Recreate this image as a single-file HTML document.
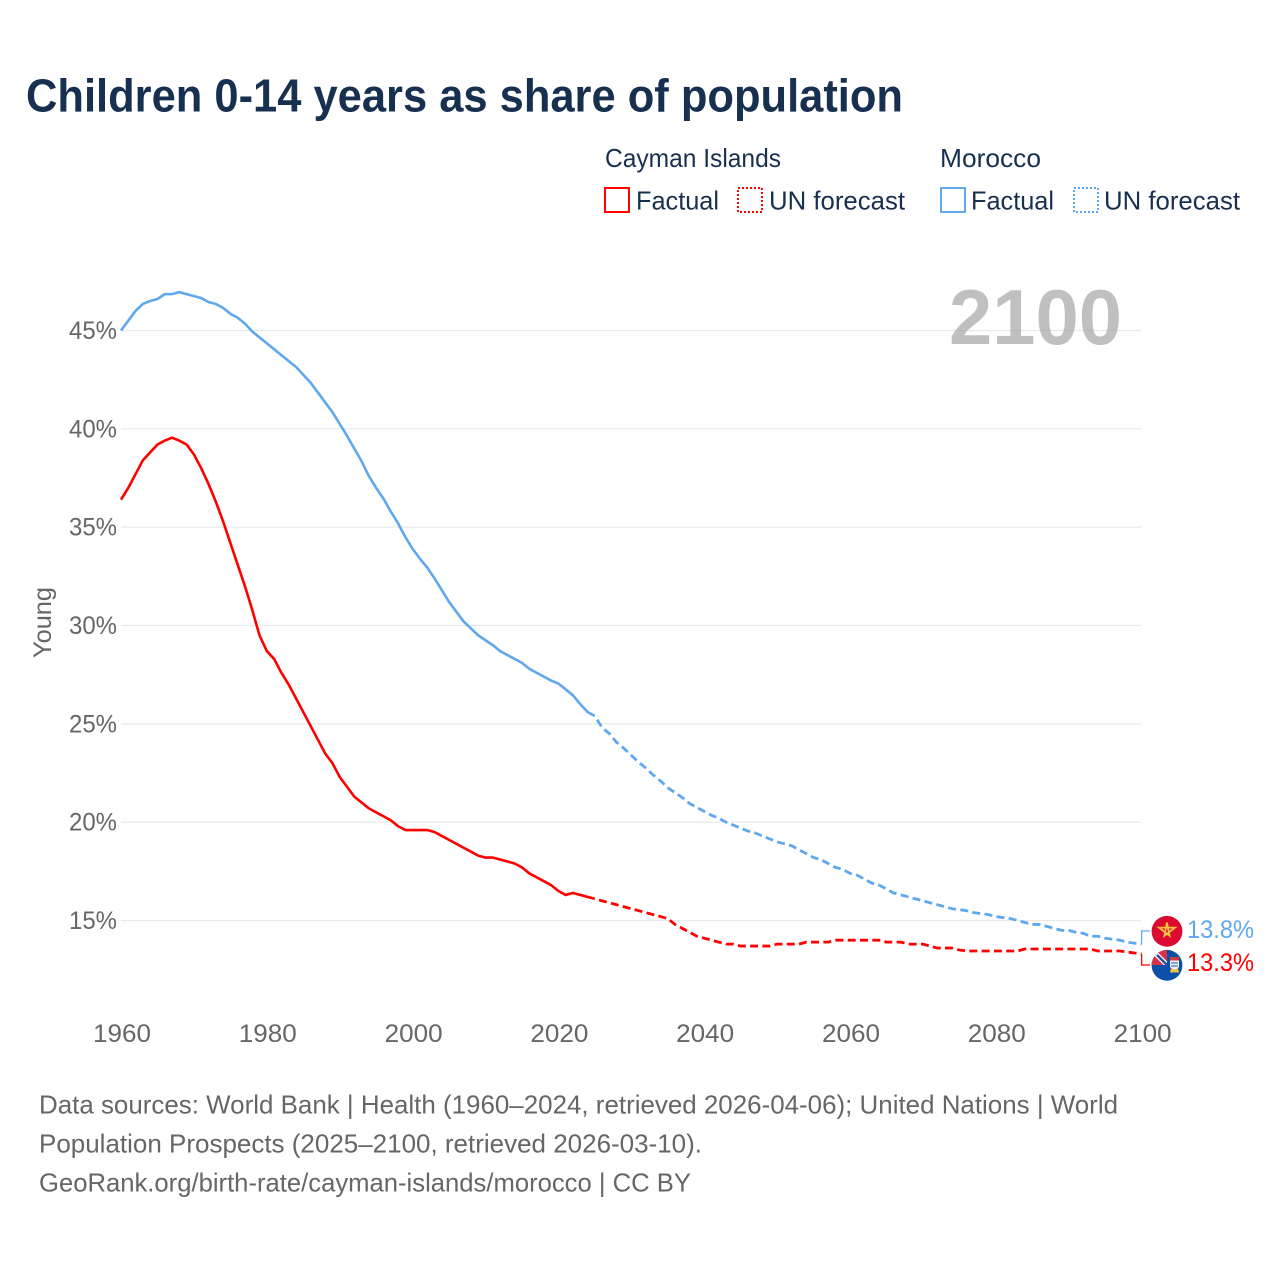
<!DOCTYPE html>
<html lang="en">
<head>
<meta charset="utf-8">
<title>Children 0-14 years as share of population</title>
<style>
html,body{margin:0;padding:0;background:#fff}
svg{display:block}
text{font-family:"Liberation Sans",sans-serif}
</style>
</head>
<body>
<svg id="chart" xmlns="http://www.w3.org/2000/svg" width="1280" height="1280" viewBox="0 0 1280 1280">
  <defs>
    <clipPath id="cayman-clip"><circle cx="1167" cy="965.3" r="15.4"/></clipPath>
    <clipPath id="jack-clip"><rect x="1150" y="949" width="17" height="16"/></clipPath>
  </defs>
  <rect width="1280" height="1280" fill="#fff"/>
  <text x="26" y="111.5" font-size="46" font-weight="700" fill="#18304f" textLength="877" lengthAdjust="spacingAndGlyphs">Children 0-14 years as share of population</text>

  <g font-size="26" fill="#18304f">
    <text x="605" y="167" textLength="176" lengthAdjust="spacingAndGlyphs">Cayman Islands</text>
    <text x="940" y="167" textLength="101" lengthAdjust="spacingAndGlyphs">Morocco</text>
    <rect x="605" y="188" width="24" height="24" fill="none" stroke="#ff0000" stroke-width="2"/>
    <text x="636" y="209.5" textLength="83" lengthAdjust="spacingAndGlyphs">Factual</text>
    <rect x="738" y="188" width="24" height="24" fill="none" stroke="#ff0000" stroke-width="2" stroke-dasharray="2 2"/>
    <text x="769" y="209.5" textLength="136" lengthAdjust="spacingAndGlyphs">UN forecast</text>
    <rect x="941" y="188" width="24" height="24" fill="none" stroke="#5fa8ee" stroke-width="2"/>
    <text x="971" y="209.5" textLength="83" lengthAdjust="spacingAndGlyphs">Factual</text>
    <rect x="1074" y="188" width="24" height="24" fill="none" stroke="#5fa8ee" stroke-width="2" stroke-dasharray="2 2"/>
    <text x="1104" y="209.5" textLength="136" lengthAdjust="spacingAndGlyphs">UN forecast</text>
  </g>

  <g id="grid"></g>
  <text x="949" y="344" font-size="78" font-weight="700" fill="#999" fill-opacity="0.62" textLength="173" lengthAdjust="spacingAndGlyphs">2100</text>
  <g id="yaxis"></g>
  <g id="xaxis"></g>
  <text transform="translate(51,658) rotate(-90)" font-size="25" fill="#666" textLength="71" lengthAdjust="spacingAndGlyphs">Young</text>
  <g id="series"></g>

  <g>
    <circle cx="1167" cy="931.3" r="15.4" fill="#dc0a30"/>
    <polygon points="1167,922.5 1169.6,935.8 1159,927.6 1175,927.6 1164.4,935.8" fill="none" stroke="#f5c33b" stroke-width="1.8"/>
  </g>
  <g clip-path="url(#cayman-clip)">
    <rect x="1150" y="949" width="34" height="33" fill="#0b4fa8"/>
    <g clip-path="url(#jack-clip)">
      <rect x="1150" y="949" width="17" height="16" fill="#d8324a"/>
      <path d="M1155 953 L1167 965" stroke="#fff" stroke-width="5"/>
      <path d="M1157 955 L1167 965" stroke="#2a4f9a" stroke-width="2.5"/>
    </g>
    <path d="M1170 957 H1179 V967 Q1175 972 1170 967 Z" fill="#f3f3f3"/>
    <rect x="1170" y="957" width="9" height="3.5" fill="#cf3a3a"/>
    <path d="M1171 968 Q1174.5 971 1178 968 L1179 972.5 H1170 Z" fill="#eec23c"/>
    <path d="M1171 963 H1178 M1171 966 H1178" stroke="#3f76c4" stroke-width="1.2"/>
  </g>
  <g id="endlabels"></g>

  <g font-size="26" fill="#666">
    <text x="39" y="1113.5" textLength="1079" lengthAdjust="spacingAndGlyphs">Data sources: World Bank | Health (1960–2024, retrieved 2026-04-06); United Nations | World</text>
    <text x="39" y="1152.5" textLength="663" lengthAdjust="spacingAndGlyphs">Population Prospects (2025–2100, retrieved 2026-03-10).</text>
    <text x="39" y="1191.5" textLength="652" lengthAdjust="spacingAndGlyphs">GeoRank.org/birth-rate/cayman-islands/morocco | CC BY</text>
  </g>
</svg>
<script>
const yTicks = [15, 20, 25, 30, 35, 40, 45];
const xTicks = [1960, 1980, 2000, 2020, 2040, 2060, 2080, 2100];
const factualStartYear = 1960;
const forecastStartYear = 2025;

const moroccoFactual = [45.0,45.5,46.0,46.35,46.5,46.6,46.85,46.85,46.95,46.85,46.75,46.65,46.45,46.35,46.15,45.85,45.65,45.35,44.95,44.65,44.35,44.05,43.75,43.45,43.15,42.75,42.35,41.85,41.35,40.85,40.25,39.65,39.0,38.35,37.6,37.0,36.45,35.8,35.2,34.5,33.9,33.4,32.95,32.4,31.8,31.2,30.7,30.2,29.85,29.5,29.25,29.0,28.7,28.5,28.3,28.1,27.8,27.6,27.4,27.2,27.05,26.75,26.45,26.0,25.6,25.4];
const moroccoForecast = [25.4,24.8,24.5,24.05,23.75,23.4,23.05,22.75,22.4,22.1,21.75,21.5,21.25,20.95,20.75,20.55,20.35,20.2,20.0,19.85,19.7,19.55,19.45,19.3,19.15,19.0,18.9,18.8,18.6,18.4,18.2,18.1,17.9,17.7,17.6,17.4,17.3,17.1,16.9,16.8,16.6,16.4,16.3,16.2,16.1,16.0,15.9,15.8,15.7,15.6,15.55,15.5,15.4,15.35,15.3,15.2,15.15,15.1,15.0,14.9,14.8,14.8,14.7,14.6,14.5,14.5,14.4,14.35,14.2,14.2,14.1,14.05,14.0,13.9,13.85,13.8];
const caymanFactual = [36.4,37.0,37.7,38.4,38.8,39.2,39.4,39.55,39.4,39.2,38.7,38.0,37.2,36.3,35.3,34.2,33.1,32.0,30.8,29.5,28.7,28.3,27.6,27.0,26.3,25.6,24.9,24.2,23.5,23.0,22.3,21.8,21.3,21.0,20.7,20.5,20.3,20.1,19.8,19.6,19.6,19.6,19.6,19.5,19.3,19.1,18.9,18.7,18.5,18.3,18.2,18.2,18.1,18.0,17.9,17.7,17.4,17.2,17.0,16.8,16.5,16.3,16.4,16.3,16.2,16.1];
const caymanForecast = [16.1,16.0,15.9,15.8,15.7,15.6,15.5,15.4,15.3,15.2,15.1,14.8,14.6,14.4,14.2,14.1,14.0,13.9,13.8,13.8,13.7,13.7,13.7,13.7,13.7,13.8,13.8,13.8,13.8,13.9,13.9,13.9,13.9,14.0,14.0,14.0,14.0,14.0,14.0,14.0,13.9,13.9,13.9,13.8,13.8,13.8,13.7,13.6,13.6,13.6,13.5,13.45,13.45,13.45,13.45,13.45,13.45,13.45,13.45,13.55,13.55,13.55,13.55,13.55,13.55,13.55,13.55,13.55,13.55,13.45,13.45,13.45,13.45,13.4,13.35,13.3];

const SVG_NS = 'http://www.w3.org/2000/svg';
const xScale = year => 121 + (year - 1960) * 7.29;
const yScale = pct => 330.5 + (45 - pct) * 19.667;
const pathFrom = (values, startYear) =>
  values.map((v, i) => (i ? 'L' : 'M') + xScale(startYear + i).toFixed(2) + ' ' + yScale(v).toFixed(2)).join(' ');

const grid = document.getElementById('grid');
const yAxis = document.getElementById('yaxis');
const xAxis = document.getElementById('xaxis');
const series = document.getElementById('series');
const endLabels = document.getElementById('endlabels');

yTicks.forEach(t => {
  const line = document.createElementNS(SVG_NS, 'line');
  
  
  line.setAttribute('x1', 121);
  line.setAttribute('x2', 1141);
  line.setAttribute('y1', yScale(t));
  line.setAttribute('y2', yScale(t));
  line.setAttribute('stroke', '#e9e9e9');
  line.setAttribute('stroke-width', '1.2');
  grid.appendChild(line);

  const label = document.createElementNS(SVG_NS, 'text');
  
  
  label.setAttribute('x', 69);
  label.setAttribute('y', yScale(t) + 8.5);
  label.setAttribute('font-size', '25');
  label.setAttribute('fill', '#666');
  label.setAttribute('textLength', '48');
  label.setAttribute('lengthAdjust', 'spacingAndGlyphs');
  label.textContent = t + '%';
  yAxis.appendChild(label);
});

xTicks.forEach(t => {
  const label = document.createElementNS(SVG_NS, 'text');
  
  
  label.setAttribute('x', xScale(t) - 28);
  label.setAttribute('y', 1042);
  label.setAttribute('font-size', '25');
  label.setAttribute('fill', '#666');
  label.setAttribute('textLength', '58');
  label.setAttribute('lengthAdjust', 'spacingAndGlyphs');
  label.textContent = t;
  xAxis.appendChild(label);
});

function drawLine(values, startYear, color, dashed, name) {
  const p = document.createElementNS(SVG_NS, 'path');
  
  
  p.setAttribute('d', pathFrom(values, startYear));
  p.setAttribute('fill', 'none');
  p.setAttribute('stroke', color);
  p.setAttribute('stroke-width', dashed ? '2.8' : '2.6');
  p.setAttribute('stroke-linejoin', 'round');
  if (dashed) {
    p.setAttribute('stroke-dasharray', '8 4.3');
    p.setAttribute('stroke-dashoffset', '8');
  }
  series.appendChild(p);
}
drawLine(moroccoFactual, factualStartYear, '#5fa8ee', false, 'morocco-factual-line');
drawLine(moroccoForecast, forecastStartYear, '#5fa8ee', true, 'morocco-forecast-line');
drawLine(caymanFactual, factualStartYear, '#ff0000', false, 'cayman-factual-line');
drawLine(caymanForecast, forecastStartYear, '#ff0000', true, 'cayman-forecast-line');

function drawEnd(values, color, flagY, labelY, name) {
  const last = values[values.length - 1];
  const conn = document.createElementNS(SVG_NS, 'path');
  
  
  conn.setAttribute('d', 'M' + xScale(2100) + ' ' + yScale(last) + ' V' + flagY + ' H1150');
  conn.setAttribute('fill', 'none');
  conn.setAttribute('stroke', color);
  conn.setAttribute('stroke-width', '1.3');
  endLabels.appendChild(conn);

  const text = document.createElementNS(SVG_NS, 'text');
  
  
  text.setAttribute('x', 1187);
  text.setAttribute('y', labelY);
  text.setAttribute('font-size', '25');
  text.setAttribute('fill', color);
  text.setAttribute('textLength', '67');
  text.setAttribute('lengthAdjust', 'spacingAndGlyphs');
  text.textContent = last.toFixed(1) + '%';
  endLabels.appendChild(text);
}
drawEnd(moroccoForecast, '#5fa8ee', 931, 938, 'morocco');
drawEnd(caymanForecast, '#ff0000', 965, 971, 'cayman');
</script>
</body>
</html>
